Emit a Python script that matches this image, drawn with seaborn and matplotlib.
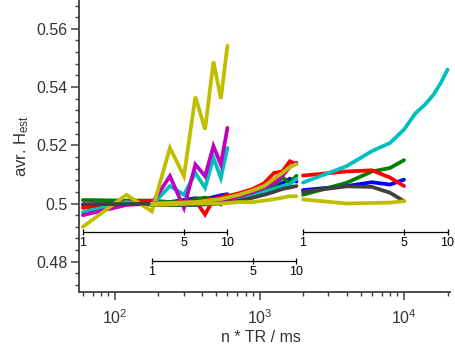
import numpy as np
import pandas as pd
import matplotlib
matplotlib.use("Agg")
import matplotlib.pyplot as plt
import matplotlib.ticker as mticker
import seaborn as sns

# ---------------- data ----------------
tr_groups = [60, 180, 2000]          # ms
n10 = [1, 2, 3, 4, 5, 6, 7, 8, 9, 10]
n5 = [1, 2, 3, 4, 5]

# group 1 (TR = 60 ms)
g1_blue    = [0.4995, 0.5000, 0.5000, 0.5005, 0.5012, 0.5018, 0.5015, 0.5022, 0.5028, 0.5032]
g1_green   = [0.5012, 0.5010, 0.5010, 0.5005, 0.5005, 0.5015, 0.5020, 0.5015, 0.4997, 0.5025]
g1_red     = [0.4985, 0.5005, 0.5008, 0.4995, 0.5005, 0.5010, 0.4962, 0.5015, 0.5020, 0.5030]
g1_cyan    = [0.4970, 0.5005, 0.4995, 0.5060, 0.5030, 0.5105, 0.5054, 0.5157, 0.5088, 0.5191]
g1_magenta = [0.4960, 0.4995, 0.5000, 0.5094, 0.4985, 0.5134, 0.5094, 0.5197, 0.5134, 0.5260]
g1_yellow  = [0.4920, 0.5030, 0.4973, 0.5191, 0.5094, 0.5367, 0.5254, 0.5488, 0.5360, 0.5542]
g1_gray    = [0.4998, 0.4998, 0.5000, 0.5000, 0.5005, 0.5010, 0.5005, 0.5010, 0.5015, 0.5020]

# group 2 (TR = 180 ms)
g2_blue    = [0.4995, 0.5000, 0.5005, 0.5015, 0.5030, 0.5045, 0.5055, 0.5070, 0.5085, 0.5075]
g2_green   = [0.5000, 0.5000, 0.5010, 0.5020, 0.5035, 0.5050, 0.5060, 0.5090, 0.5070, 0.5095]
g2_red     = [0.5000, 0.5005, 0.5020, 0.5035, 0.5050, 0.5070, 0.5105, 0.5110, 0.5145, 0.5135]
g2_cyan    = [0.4995, 0.4995, 0.5005, 0.5015, 0.5025, 0.5040, 0.5050, 0.5060, 0.5065, 0.5085]
g2_magenta = [0.5000, 0.5005, 0.5010, 0.5025, 0.5040, 0.5055, 0.5070, 0.5095, 0.5125, 0.5140]
g2_yellow  = [0.5000, 0.5005, 0.5015, 0.5030, 0.5045, 0.5060, 0.5085, 0.5105, 0.5125, 0.5135]
g2_gray    = [0.4995, 0.4995, 0.5000, 0.5010, 0.5020, 0.5030, 0.5040, 0.5050, 0.5055, 0.5060]
g2_yellow2 = [0.4995, 0.5000, 0.5000, 0.5005, 0.5005, 0.5010, 0.5015, 0.5020, 0.5025, 0.5025]

# group 3 (TR = 2000 ms)
g3_blue   = [0.5046, 0.5060, 0.5073, 0.5065, 0.5082]
g3_green  = [0.5030, 0.5071, 0.5110, 0.5122, 0.5149]
g3_red    = [0.5096, 0.5110, 0.5114, 0.5089, 0.5060]
g3_gray   = [0.5040, 0.5059, 0.5057, 0.5037, 0.5008]
g3_yellow = [0.5014, 0.5000, 0.5002, 0.5003, 0.5008]
g3_cyan   = [0.5072, 0.5128, 0.5180, 0.5208, 0.5254, 0.5310, 0.5340, 0.5374, 0.5415, 0.5460]

scale_labels = [1, 5, 10]

C = {"b": "#0000FF", "g": "#008000", "r": "#FF0000", "c": "#00BFBF",
     "m": "#BF00BF", "y": "#BFBF00", "k": "#404040"}

series = [
    (0, n10, g1_blue, "b"), (0, n10, g1_green, "g"), (0, n10, g1_red, "r"),
    (0, n10, g1_cyan, "c"), (0, n10, g1_magenta, "m"), (0, n10, g1_yellow, "y"),
    (0, n10, g1_gray, "k"),
    (1, n10, g2_blue, "b"), (1, n10, g2_green, "g"), (1, n10, g2_red, "r"),
    (1, n10, g2_cyan, "c"), (1, n10, g2_magenta, "m"), (1, n10, g2_yellow, "y"),
    (1, n10, g2_gray, "k"), (1, n10, g2_yellow2, "y"),
    (2, n5, g3_blue, "b"), (2, n5, g3_green, "g"), (2, n5, g3_red, "r"),
    (2, n10, g3_cyan, "c"), (2, n5, g3_gray, "k"), (2, n5, g3_yellow, "y"),
]

# ---------------- style ----------------
sns.set_style("ticks")
plt.rcParams["font.family"] = ["Liberation Sans", "DejaVu Sans"]
plt.rcParams["mathtext.fontset"] = "custom"
plt.rcParams["mathtext.rm"] = "Liberation Sans"
plt.rcParams["mathtext.it"] = "Liberation Sans"
plt.rcParams["mathtext.default"] = "regular"

grey = "#404040"
fig = plt.figure(figsize=(4.55, 3.45), dpi=100)
ax = fig.add_axes([0.173, 0.1536, 0.816, 0.8464])

for g, n, vals, c in series:
    x = np.array(n) * tr_groups[g]
    sns.lineplot(x=x, y=vals, color=C[c], lw=2.7, ax=ax, legend=False,
                 sort=False, estimator=None, solid_joinstyle="miter")

ax.set_xscale("log")
ax.set_xlim(56.1, 20800)
ax.set_ylim(0.4696, 0.5699)

# scale bars for n
bar_y = [0.4902, 0.4801, 0.4902]
for tr, yb in zip(tr_groups, bar_y):
    xs = np.array(scale_labels) * tr
    ax.plot([xs[0], xs[-1]], [yb, yb], color="black", lw=0.9)
    ax.plot(xs, [yb] * len(xs), ls="none", marker="|", ms=5, mew=0.9, color="black")
    for xv, lab in zip(xs, scale_labels):
        ax.text(xv, yb - 0.0017, str(lab), ha="center", va="top", fontsize=9, color="black")

# axes styling
for s in ["top", "right"]:
    ax.spines[s].set_visible(False)
for s in ["left", "bottom"]:
    ax.spines[s].set_color(grey)
    ax.spines[s].set_linewidth(1.3)

ax.yaxis.set_major_locator(mticker.FixedLocator([0.48, 0.50, 0.52, 0.54, 0.56]))
ax.yaxis.set_major_formatter(mticker.FixedFormatter(["0.48", "0.5", "0.52", "0.54", "0.56"]))
ax.yaxis.set_minor_locator(mticker.MultipleLocator(0.004))
ax.xaxis.set_major_locator(mticker.LogLocator(base=10, numticks=10))
ax.xaxis.set_minor_locator(mticker.LogLocator(base=10, subs=np.arange(2, 10), numticks=20))
ax.xaxis.set_major_formatter(mticker.LogFormatterSciNotation())
ax.xaxis.set_minor_formatter(mticker.NullFormatter())

ax.tick_params(which="major", direction="out", length=5.5, width=1.1, color=grey,
               labelcolor="#333333", labelsize=11.5)
ax.tick_params(which="minor", direction="out", length=2.8, width=1.0, color=grey)
ax.tick_params(axis="y", pad=2.5)
ax.tick_params(axis="x", which="major", pad=6)

ax.set_ylabel(r"avr. H$_{\mathrm{est}}$", fontsize=12, color="#333333", labelpad=4)
ax.set_xlabel("n * TR / ms", fontsize=11.5, color="#333333", va="bottom")
ax.xaxis.set_label_coords(0.49, -0.180)

fig.savefig("out.png", dpi=100)
